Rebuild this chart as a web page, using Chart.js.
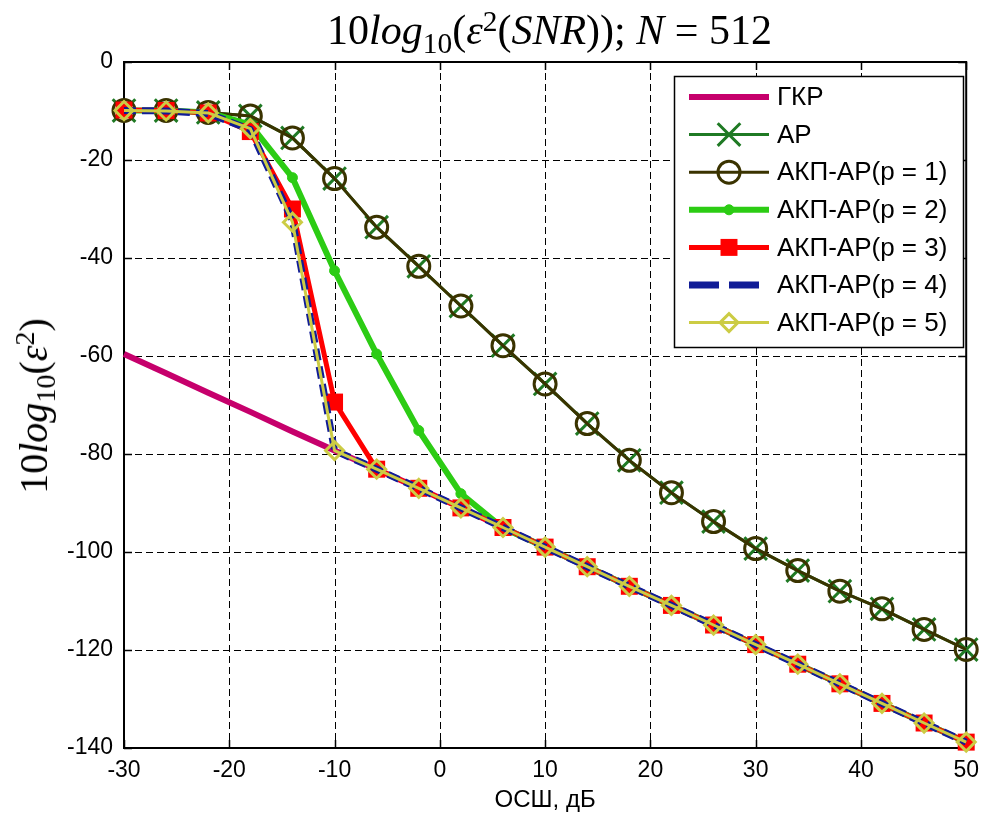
<!DOCTYPE html>
<html>
<head>
<meta charset="utf-8">
<script src="https://cdn.jsdelivr.net/npm/chart.js@4.4.0/dist/chart.umd.min.js"></script>
<style>
  html, body { margin: 0; padding: 0; background: #fff; }
  #wrap { position: relative; width: 988px; height: 819px; overflow: hidden; background: #fff; }
  #chart { position: absolute; left: 0; top: 0; }
  .math { position: absolute; font-family: "Liberation Serif", "DejaVu Serif", serif; color: #000; white-space: nowrap; line-height: 1; }
  .math i { font-style: italic; }
  .math .sub { font-size: 0.7em; position: relative; top: 0.3em; }
  .math .sup { font-size: 0.7em; position: relative; top: -0.45em; }
  #title { left: 124px; width: 851px; top: 9px; text-align: center; font-size: 42px; }
  #ylab { left: 34px; top: 406px; font-size: 40px; transform: translate(-50%, -50%) rotate(-90deg); }
</style>
</head>
<body>
<div id="wrap">
  <canvas id="chart" width="988" height="819"></canvas>
  <div id="title" class="math">10<i>log</i><span class="sub">10</span>(<i>ε</i><span class="sup">2</span>(<i>SNR</i>)); <i>N</i> = 512</div>
  <div id="ylab" class="math">10<i>log</i><span class="sub">10</span>(<i>ε</i><span class="sup">2</span>)</div>
</div>
<script>
// SNR grid, dB
const snr = [-30, -26, -22, -18, -14, -10, -6, -2, 2, 6, 10, 14, 18, 22, 26, 30, 34, 38, 42, 46, 50];

// 10*log10 of the squared error for each method
const gkr = [-59.6, -63.5, -67.5, -71.4, -75.4, -79.3, -83.1, -87.0, -91.0, -95.0, -99.0, -103.0, -107.0, -110.9, -114.9, -118.9, -122.9, -126.9, -130.9, -134.9, -138.8];
const ar  = [-9.9, -9.9, -10.3, -11.0, -15.5, -23.8, -33.7, -41.7, -49.8, -57.9, -65.7, -73.8, -81.3, -87.9, -93.8, -99.3, -103.8, -108.0, -111.6, -115.8, -119.9];
const akp1 = [-9.9, -9.9, -10.3, -11.0, -15.5, -23.8, -33.7, -41.7, -49.8, -57.9, -65.7, -73.8, -81.3, -87.9, -93.8, -99.3, -103.8, -108.0, -111.6, -115.8, -119.9];
const akp2 = [-9.9, -9.9, -10.3, -12.8, -23.6, -42.6, -59.6, -75.2, -88.1, -95.1, -99.0, -103.0, -107.0, -110.9, -114.9, -118.9, -122.9, -126.9, -130.9, -134.9, -138.8];
const akp3 = [-9.8, -9.9, -10.4, -14.2, -30.0, -69.4, -83.1, -87.0, -91.0, -95.0, -99.0, -103.0, -107.0, -110.9, -114.9, -118.9, -122.9, -126.9, -130.9, -134.9, -138.8];
const akp4 = [-9.9, -10.0, -10.5, -13.8, -32.4, -79.3, -83.1, -87.0, -91.0, -95.0, -99.0, -103.0, -107.0, -110.9, -114.9, -118.9, -122.9, -126.9, -130.9, -134.9, -138.8];
const akp5 = [-9.9, -10.0, -10.4, -13.6, -32.7, -79.3, -83.1, -87.0, -91.0, -95.0, -99.0, -103.0, -107.0, -110.9, -114.9, -118.9, -122.9, -126.9, -130.9, -134.9, -138.8];

const seriesNames = ['ГКР', 'АР', 'АКП-АР(p = 1)', 'АКП-АР(p = 2)', 'АКП-АР(p = 3)', 'АКП-АР(p = 4)', 'АКП-АР(p = 5)'];
const xTickValues = [-30, -20, -10, 0, 10, 20, 30, 40, 50];
const yTickValues = [0, -20, -40, -60, -80, -100, -120, -140];
const xAxisTitle = 'ОСШ, дБ';

const pts = ys => snr.map((x, i) => ({ x: x, y: ys[i] }));

function series(label, ys, style, order) {
  return Object.assign({
    label: label,
    data: pts(ys),
    order: order,
    clip: false,
    fill: false,
    tension: 0,
    borderJoinStyle: 'round',
    borderCapStyle: 'butt',
    pointRadius: 0,
    pointHoverRadius: 0,
    pointBackgroundColor: 'rgba(0,0,0,0)'
  }, style);
}

const datasets = [
  series(seriesNames[0], gkr, { borderColor: '#c6006c', borderWidth: 6 }, 7),
  series(seriesNames[1], ar, {
    borderColor: '#1f7a24', borderWidth: 3,
    pointStyle: 'crossRot', pointRadius: 16, pointBorderWidth: 3, pointBorderColor: '#1f7a24'
  }, 6),
  series(seriesNames[2], akp1, {
    borderColor: '#3a3300', borderWidth: 3,
    pointStyle: 'circle', pointRadius: 11, pointBorderWidth: 3, pointBorderColor: '#3a3300'
  }, 5),
  series(seriesNames[3], akp2, {
    borderColor: '#2ccc14', borderWidth: 6,
    pointStyle: 'circle', pointRadius: 5, pointBorderWidth: 1, pointBorderColor: '#2ccc14', pointBackgroundColor: '#2ccc14'
  }, 4),
  series(seriesNames[4], akp3, {
    borderColor: '#ff0000', borderWidth: 5,
    pointStyle: 'rect', pointRadius: 12, pointBorderWidth: 0, pointBorderColor: '#ff0000', pointBackgroundColor: '#ff0000'
  }, 3),
  series(seriesNames[5], akp4, {
    borderColor: '#101c96', borderWidth: 7, borderDash: [12, 6], legendDash: [30, 10]
  }, 2),
  series(seriesNames[6], akp5, {
    borderColor: '#cccc44', borderWidth: 3,
    pointStyle: 'rectRot', pointRadius: 9, pointBorderWidth: 3, pointBorderColor: '#cccc44'
  }, 1)
];

// dashed grid, inward ticks and the axes box
const framePlugin = {
  id: 'frame',
  beforeDatasetsDraw(chart) {
    const { ctx, chartArea: a, scales } = chart;
    const xs = scales.x, ys = scales.y;
    ctx.save();
    ctx.strokeStyle = '#000';
    ctx.lineWidth = 1;
    ctx.setLineDash([7, 4]);
    ctx.beginPath();
    xTickValues.forEach(v => {
      if (v === xs.min || v === xs.max) return;
      const px = Math.round(xs.getPixelForValue(v)) + 0.5;
      ctx.moveTo(px, a.top); ctx.lineTo(px, a.bottom);
    });
    yTickValues.forEach(v => {
      if (v === ys.min || v === ys.max) return;
      const py = Math.round(ys.getPixelForValue(v)) + 0.5;
      ctx.moveTo(a.left, py); ctx.lineTo(a.right, py);
    });
    ctx.stroke();
    ctx.setLineDash([]);
    ctx.lineWidth = 1.5;
    ctx.beginPath();
    xTickValues.forEach(v => {
      const px = Math.round(xs.getPixelForValue(v)) + 0.5;
      ctx.moveTo(px, a.bottom); ctx.lineTo(px, a.bottom - 8);
      ctx.moveTo(px, a.top); ctx.lineTo(px, a.top + 8);
    });
    yTickValues.forEach(v => {
      const py = Math.round(ys.getPixelForValue(v)) + 0.5;
      ctx.moveTo(a.left, py); ctx.lineTo(a.left + 8, py);
      ctx.moveTo(a.right, py); ctx.lineTo(a.right - 8, py);
    });
    ctx.stroke();
    ctx.lineWidth = 2;
    ctx.strokeRect(a.left, a.top, a.right - a.left, a.bottom - a.top);
    ctx.restore();
  }
};

// boxed legend with line samples and markers
const legendPlugin = {
  id: 'boxLegend',
  afterDraw(chart) {
    const ctx = chart.ctx;
    const box = { l: 674, t: 76, r: 963, b: 347 };
    ctx.save();
    ctx.fillStyle = '#fff';
    ctx.fillRect(box.l, box.t, box.r - box.l, box.b - box.t);
    ctx.strokeStyle = '#000';
    ctx.lineWidth = 1.5;
    ctx.strokeRect(box.l + 0.5, box.t + 0.5, box.r - box.l, box.b - box.t);
    chart.data.datasets.forEach((ds, i) => {
      const cy = 97 + i * 37.6;
      const x0 = 689, x1 = 769, cx = (x0 + x1) / 2;
      ctx.save();
      ctx.strokeStyle = ds.borderColor;
      ctx.lineWidth = ds.borderWidth;
      ctx.setLineDash(ds.legendDash || ds.borderDash || []);
      ctx.beginPath();
      ctx.moveTo(x0, cy); ctx.lineTo(x1, cy);
      ctx.stroke();
      ctx.setLineDash([]);
      if (ds.pointRadius > 0) {
        ctx.strokeStyle = ds.pointBorderColor;
        ctx.fillStyle = ds.pointBackgroundColor;
        ctx.lineWidth = ds.pointBorderWidth;
        Chart.helpers.drawPoint(ctx, {
          pointStyle: ds.pointStyle, radius: ds.pointRadius, rotation: 0, borderWidth: ds.pointBorderWidth
        }, cx, cy);
      }
      ctx.restore();
      ctx.fillStyle = '#000';
      ctx.font = '26px "Liberation Sans", Arial, sans-serif';
      ctx.textBaseline = 'middle';
      ctx.textAlign = 'left';
      ctx.fillText(ds.label, 777, cy + 1);
    });
    ctx.restore();
  }
};

const tickFont = { family: '"Liberation Sans", Arial, sans-serif', size: 23 };

new Chart(document.getElementById('chart'), {
  type: 'line',
  data: { datasets: datasets },
  options: {
    responsive: false,
    devicePixelRatio: 1,
    animation: false,
    events: [],
    layout: { padding: { top: 62, right: 13, bottom: 0, left: 0 } },
    plugins: { legend: { display: false }, tooltip: { enabled: false }, title: { display: false } },
    scales: {
      x: {
        type: 'linear', min: -30, max: 50,
        afterBuildTicks: s => { s.ticks = xTickValues.map(v => ({ value: v })); },
        afterFit: s => { s.height = 71; },
        grid: { display: false, drawTicks: false },
        border: { display: false },
        ticks: { color: '#000', font: tickFont, padding: 9, maxRotation: 0, autoSkip: false },
        title: { display: true, text: xAxisTitle, color: '#000', font: { family: '"Liberation Sans", Arial, sans-serif', size: 24 }, padding: { top: 0, bottom: 4 } }
      },
      y: {
        type: 'linear', min: -140, max: 0,
        afterBuildTicks: s => { s.ticks = yTickValues.map(v => ({ value: v })); },
        afterFit: s => { s.width = 124; },
        grid: { display: false, drawTicks: false },
        border: { display: false },
        ticks: { color: '#000', font: tickFont, padding: 11, autoSkip: false }
      }
    }
  },
  plugins: [framePlugin, legendPlugin]
});
</script>
</body>
</html>
